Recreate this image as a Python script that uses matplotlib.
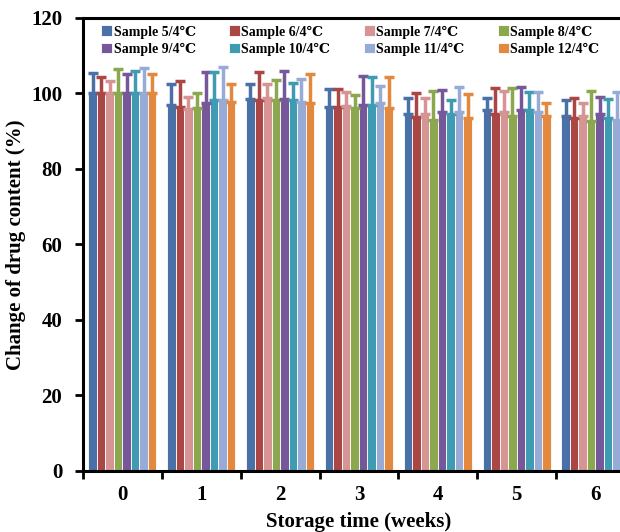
import matplotlib
matplotlib.use("Agg")
import matplotlib.pyplot as plt
import numpy as np

plt.rcParams['font.family'] = ['Liberation Serif', 'DejaVu Serif', 'DejaVu Sans']
plt.rcParams['font.weight'] = 'bold'

weeks = ['0', '1', '2', '3', '4', '5', '6']
samples = ['Sample 5/4℃', 'Sample 6/4℃', 'Sample 7/4℃', 'Sample 8/4℃',
           'Sample 9/4℃', 'Sample 10/4℃', 'Sample 11/4℃', 'Sample 12/4℃']
colors = ['#4A70A8', '#AA4644', '#D69494', '#8CA84E', '#76589A', '#3F9BB2', '#97ABD6', '#E2883F']

s5 = [100, 96.9, 98.6, 96.4, 94.5, 95.6, 94.0]
s6 = [100, 96.5, 98.2, 96.4, 93.8, 94.5, 93.5]
s7 = [100, 95.9, 98.8, 96.8, 94.5, 95.0, 94.0]
s8 = [100, 96.1, 98.2, 96.1, 93.0, 94.0, 92.6]
s9 = [100, 97.6, 98.5, 96.9, 95.0, 95.6, 94.6]
s10 = [100, 98.3, 98.2, 96.9, 94.6, 95.6, 93.6]
s11 = [100, 98.4, 97.8, 97.4, 95.0, 95.2, 93.1]
s12 = [100, 97.8, 97.4, 96.1, 93.5, 94.1, 92.6]
values = [s5, s6, s7, s8, s9, s10, s11, s12]

u5 = [105.4, 102.4, 102.4, 101.3, 98.8, 98.8, 98.2]
u6 = [104.3, 103.3, 105.8, 101.3, 100.0, 101.4, 98.8]
u7 = [103.3, 99.2, 102.4, 100.4, 98.7, 100.7, 97.6]
u8 = [106.4, 100.1, 103.6, 99.5, 100.7, 101.4, 100.7]
u9 = [105.2, 105.8, 106.0, 104.6, 100.9, 101.6, 99.2]
u10 = [106.0, 105.7, 102.9, 104.3, 98.4, 100.3, 98.5]
u11 = [106.8, 107.1, 103.8, 102.1, 101.6, 100.3, 100.3]
u12 = [105.2, 102.4, 105.2, 104.3, 99.9, 97.4, 97.0]
uppers = [u5, u6, u7, u8, u9, u10, u11, u12]

fig = plt.figure(figsize=(6.2, 5.32), dpi=100)
ax = fig.add_axes([0.1339, 0.1147, 0.89, 0.8515])

x = np.arange(len(weeks))
n = len(samples)
bw = 0.108
handles = []
for i in range(n):
    pos = x + (i - (n - 1) / 2) * bw
    v = np.array(values[i])
    up = np.array(uppers[i]) - v
    b = ax.bar(pos, v, width=bw, color=colors[i], edgecolor='white', linewidth=0.6,
               label=samples[i], zorder=2)
    handles.append(b)
    ax.errorbar(pos, v, yerr=[np.zeros_like(up), up], fmt='none', ecolor=colors[i],
                elinewidth=2.5, capsize=3.5, capthick=2.5, zorder=3)

ax.set_xlim(-0.5, len(weeks) - 0.5)
ax.set_ylim(0, 120)
ax.set_yticks(np.arange(0, 121, 20))
ax.set_xticks(x)
ax.set_xticklabels(weeks)
ax.set_xticks(np.arange(-0.5, len(weeks), 1), minor=True)
ax.tick_params(axis='x', which='major', length=0, pad=10, labelsize=15)
ax.tick_params(axis='x', which='minor', length=6, width=2, direction='out')
ax.tick_params(axis='y', which='major', length=6, width=2, direction='out', labelsize=15, pad=9)
for lab in ax.get_xticklabels() + ax.get_yticklabels():
    lab.set_fontweight('bold')

for sp in ['left', 'bottom', 'top']:
    ax.spines[sp].set_linewidth(2.2)
ax.spines['right'].set_visible(False)

ax.set_xlabel('Storage time (weeks)', fontsize=15, fontweight='bold', labelpad=5)
ax.set_ylabel('Change of drug content (%)', fontsize=15, fontweight='bold', labelpad=4)

# row-major legend order for 4 columns x 2 rows
order = [0, 4, 1, 5, 2, 6, 3, 7]
leg = ax.legend([handles[k] for k in order], [samples[k] for k in order],
                loc='upper left', bbox_to_anchor=(0.015, 1.005), ncol=4, frameon=False,
                prop={'size': 10, 'weight': 'bold'}, handlelength=0.8, handleheight=0.8,
                handletextpad=0.1, columnspacing=2.4, labelspacing=0.3, borderaxespad=0.3)

fig.savefig('out.png', dpi=100)
